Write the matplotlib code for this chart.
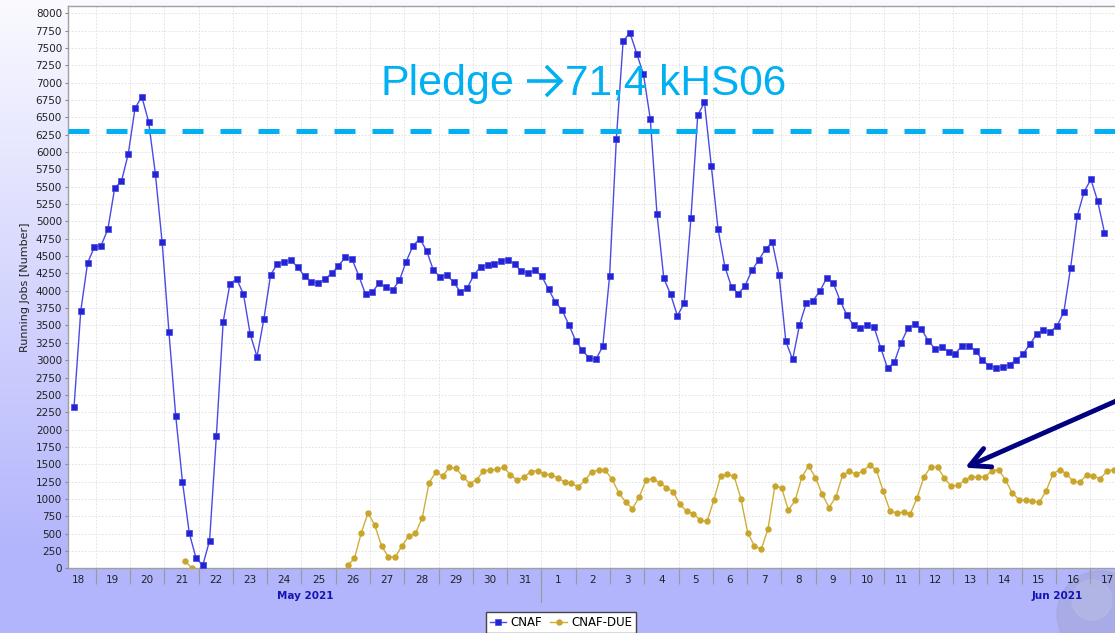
import numpy as np
import matplotlib
matplotlib.use('Agg')
import matplotlib.pyplot as plt
import matplotlib.transforms as mtransforms
from matplotlib.lines import Line2D
from matplotlib.patches import Ellipse

nan = float('nan')

# sampling: one point every ~4.75 h, hours counted from May 18 00:00
step_h = 4.745
cnaf_start_h = 8.82
due_start_h = 86.5

cnaf = [
    2320, 3710, 4400, 4630, 4650, 4890, 5480, 5580, 5970, 6630,
    6800, 6440, 5690, 4700, 3410, 2200, 1250, 510, 145, 45,
    400, 1910, 3550, 4100, 4170, 3950, 3370, 3050, 3590, 4230,
    4390, 4410, 4440, 4340, 4210, 4130, 4110, 4170, 4250, 4360,
    4480, 4460, 4220, 3950, 3980, 4110, 4050, 4010, 4150, 4420,
    4650, 4750, 4580, 4300, 4200, 4230, 4120, 3985, 4040, 4230,
    4350, 4370, 4385, 4425, 4450, 4385, 4280, 4260, 4300, 4210,
    4020, 3840, 3720, 3510, 3280, 3140, 3030, 3015, 3200, 4210,
    6190, 7600, 7720, 7420, 7120, 6480, 5100, 4180, 3950, 3640,
    3820, 5050, 6530, 6715, 5800, 4890, 4350, 4050, 3960, 4075,
    4295, 4445, 4600, 4700, 4230, 3270, 3010, 3500, 3820, 3860,
    3990, 4180, 4110, 3860, 3650, 3500, 3460, 3500, 3480, 3175,
    2885, 2970, 3250, 3460, 3515, 3450, 3280, 3165, 3190, 3120,
    3095, 3210, 3210, 3130, 3005, 2915, 2890, 2900, 2935, 3005,
    3090, 3230, 3375, 3430, 3410, 3495, 3690, 4330, 5080, 5430,
    5605, 5290, 4840]

cnaf_due = ([105, 5] + [nan] * 22 + [
    43, 142, 510, 798, 620, 320, 165, 160, 322, 465, 505,
    730, 1230, 1389, 1331, 1455, 1440, 1320, 1222, 1276, 1400,
    1418, 1427, 1453, 1350, 1268, 1312, 1395, 1408, 1360, 1347,
    1305, 1244, 1227, 1172, 1266, 1395, 1412, 1412, 1283, 1086,
    956, 860, 1028, 1268, 1292, 1235, 1163, 1105, 922, 822,
    788, 692, 677, 980, 1331, 1355, 1326, 1004, 514, 322,
    274, 567, 1182, 1163, 836, 980,
    1317, 1475, 1307, 1067, 875, 1028, 1341, 1398, 1355, 1403,
    1485, 1412, 1110, 826, 797, 812, 788, 1019, 1317, 1460,
    1460, 1302, 1182, 1197, 1268, 1317, 1317, 1317, 1403, 1422,
    1278, 1091, 990, 980, 970, 951, 1110, 1355, 1422, 1365,
    1254, 1240, 1350, 1326, 1292, 1398, 1422])

day_labels = [str(d) for d in range(18, 32)] + [str(d) for d in range(1, 18)]
month_labels = ['May 2021', 'Jun 2021']
month_pos = [7.1, 29.03]
pledge = 6300

x_cnaf = (cnaf_start_h + step_h * np.arange(len(cnaf))) / 24.0
x_due = (due_start_h + step_h * np.arange(len(cnaf_due))) / 24.0

W, H = 1115, 633
fig = plt.figure(figsize=(W / 100, H / 100), dpi=100)

# background gradient
bg = fig.add_axes([0, 0, 1, 1], zorder=-10)
t = np.clip(np.arange(H) / 560.0, 0, 1)[:, None]
top = np.array([250, 250, 255]) / 255
bot = np.array([178, 180, 252]) / 255
grad = top * (1 - t) + bot * t
bg.imshow(np.repeat(grad[:, None, :], 4, axis=1), aspect='auto', extent=[0, 1, 0, 1])
bg.add_patch(Ellipse((1100 / W, (H - 614) / H), 86 / W, 86 / H, color='#a4a8dc', alpha=0.7))
bg.add_patch(Ellipse((1092 / W, (H - 600) / H), 40 / W, 40 / H, color='#b8bce6', alpha=0.6))
bg.set_xlim(0, 1)
bg.set_ylim(0, 1)
bg.axis('off')

ax = fig.add_axes([68 / W, (H - 568.3) / H, 1047 / W, 562.3 / H])
ax.set_facecolor('white')

ax.plot(x_cnaf, cnaf, color='#4a4ae6', lw=1.0, marker='s', markersize=4.6,
        markerfacecolor='#2323d6', markeredgecolor='#4444e0', markeredgewidth=0.5, zorder=4)
ax.plot(x_due, cnaf_due, color='#cfae3c', lw=1.0, marker='o', markersize=3.6,
        markerfacecolor='#c9a52c', markeredgecolor='#c9a52c', zorder=4)

ax.axhline(pledge, color='#00b0f0', lw=3.6, dashes=(4.2, 3.4), zorder=5)

ax.set_xlim(0.1925, 30.726)
ax.set_ylim(0, 8105)

ax.set_yticks(np.arange(0, 8001, 250))
ax.tick_params(axis='y', length=2.2, width=0.8, color='#888888', pad=2.2,
               labelsize=7.5, labelcolor='#222222')
ax.set_xticks(np.arange(1, 31))
ax.set_xticks(np.arange(31) + 0.5, minor=True)
ax.set_xticklabels(day_labels, minor=True)
ax.tick_params(axis='x', which='major', length=11.5, width=0.8, color='#999999', labelbottom=False)
ax.tick_params(axis='x', which='minor', length=0, pad=5, labelsize=7.5, labelcolor='#222222')

ax.grid(True, which='major', color='#dedede', lw=0.6, ls=(0, (2, 2)))
ax.set_axisbelow(True)

for s in ['left', 'top', 'bottom']:
    ax.spines[s].set_color('#a0a0a0')
    ax.spines[s].set_linewidth(1.0)
ax.spines['right'].set_visible(False)

ax.set_ylabel('Running Jobs [Number]', fontsize=8, color='#222222', labelpad=4)

trans = mtransforms.blended_transform_factory(ax.transData, ax.transAxes)
for lab, pos in zip(month_labels, month_pos):
    ax.text(pos, -0.0487, lab, transform=trans, ha='center', va='center',
            fontsize=7.5, fontweight='bold', color='#1414b4')
ax.plot([14, 14], [-0.019, -0.06], transform=trans, color='#999999', lw=0.8, clip_on=False)

# pledge annotation (pasted-on text in the original slide)
base_y = (H - 95) / H
fig.text(380 / W, base_y, 'Pledge', fontsize=31, color='#00b0f0',
         family='Liberation Sans', ha='left', va='baseline', zorder=20)
fig.text(565 / W, base_y, '71,4 kHS06', fontsize=30.5, color='#00b0f0',
         family='Liberation Sans', ha='left', va='baseline', zorder=20)
# the arrow sign between the two words, drawn as strokes
arr_kw = dict(color='#00b0f0', lw=2.6, transform=fig.transFigure, zorder=20,
              solid_capstyle='butt', solid_joinstyle='miter')
fig.add_artist(Line2D([527 / W, 560 / W], [(H - 81) / H, (H - 81) / H], **arr_kw))
fig.add_artist(Line2D([546 / W, 561 / W, 546 / W],
                      [(H - 66) / H, (H - 81) / H, (H - 96) / H], **arr_kw))

ax.annotate('', xy=(965, H - 467.7), xycoords='figure pixels',
            xytext=(1175, H - 375), textcoords='figure pixels',
            arrowprops=dict(arrowstyle='->,head_length=1.4,head_width=0.72',
                            color='#000080', lw=3.5, mutation_scale=10,
                            shrinkA=0, shrinkB=0),
            annotation_clip=False, zorder=20)

handles = [Line2D([], [], color='#4a4ae6', lw=1.0, marker='s', markersize=4.6,
                  markerfacecolor='#2323d6', markeredgecolor='#4444e0', markeredgewidth=0.5),
           Line2D([], [], color='#cfae3c', lw=1.0, marker='o', markersize=3.6,
                  markerfacecolor='#c9a52c', markeredgecolor='#c9a52c')]
leg = fig.legend(handles, ['CNAF', 'CNAF-DUE'], loc='upper left',
                 bbox_to_anchor=(485.7 / W, (H - 611.7) / H), ncol=2, frameon=True,
                 fancybox=False, edgecolor='#444444', framealpha=1, fontsize=8.5,
                 handlelength=1.4, handletextpad=0.35, columnspacing=0.7,
                 borderpad=0.35, borderaxespad=0)
leg.get_frame().set_linewidth(1.0)

plt.savefig('out.png', dpi=100)
